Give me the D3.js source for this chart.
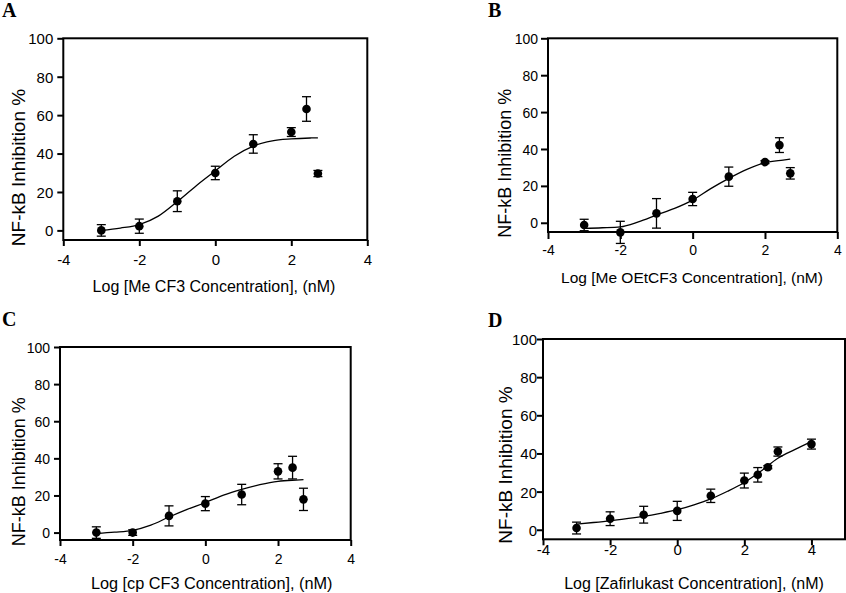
<!DOCTYPE html>
<html>
<head>
<meta charset="utf-8">
<script src="https://cdn.jsdelivr.net/npm/d3@7"></script>
<style>
  html, body { margin: 0; padding: 0; background: #fff; }
  svg { display: block; }
</style>
</head>
<body>
<svg id="chart" width="846" height="593"></svg>
<script>
// ---------------- data ----------------
const xTicks = [-4, -2, 0, 2, 4];
const yTicks = [0, 20, 40, 60, 80, 100];
const yLabel = "NF-kB Inhibition %";

// Panel A — Me CF3
const doseA = [-3, -2, -1, 0, 1, 2, 2.4, 2.7];
const meanA = [0, 2.2, 15.2, 29.9, 45.0, 51.2, 63.2, 29.6];
const semA  = [3.0, 3.7, 5.4, 3.5, 4.8, 2.3, 6.4, 1.6];
const fitXA = [-3, -2.5, -2, -1.5, -1, -0.5, 0, 0.5, 1, 1.5, 2, 2.5, 2.7];
const fitYA = [0.0, 1.2, 3.0, 7.4, 15.0, 23.3, 31.0, 38.6, 43.9, 46.6, 47.6, 48.1, 48.2];

// Panel B — Me OEtCF3
const doseB = [-3, -2, -1, 0, 1, 2, 2.4, 2.7];
const meanB = [-1.2, -5.2, 5.1, 12.9, 25.0, 32.9, 42.1, 26.8];
const semB  = [3.1, 6.0, 8.0, 3.6, 5.2, 0.8, 4.0, 3.1];
const fitXB = [-3, -2.5, -2, -1.5, -1, -0.5, 0, 0.5, 1, 1.5, 2, 2.5, 2.7];
const fitYB = [-3.0, -2.7, -2.2, 0.5, 4.2, 7.8, 12.3, 18.5, 24.1, 29.0, 32.5, 34.0, 34.5];

// Panel C — cp CF3
const doseC = [-3, -2, -1, 0, 1, 2, 2.4, 2.7];
const meanC = [0, 0, 9.0, 15.6, 20.5, 33.0, 35.0, 17.9];
const semC  = [3.1, 1.5, 5.4, 3.8, 5.5, 4.1, 6.1, 6.0];
const fitXC = [-3, -2.5, -2, -1.5, -1, -0.5, 0, 0.5, 1, 1.5, 2, 2.5, 2.7];
const fitYC = [-0.5, 0.2, 1.2, 4.0, 8.4, 12.5, 16.2, 20.2, 23.3, 25.8, 27.6, 28.3, 28.5];

// Panel D — Zafirlukast
const doseD = [-3, -2, -1, 0, 1, 2, 2.4, 2.7, 3, 4];
const meanD = [0.9, 5.8, 7.9, 9.9, 17.8, 25.8, 28.8, 32.8, 41.0, 44.9];
const semD  = [3.1, 3.6, 4.4, 5.0, 3.5, 3.9, 3.8, 0.8, 2.4, 2.6];
const fitXD = [-3, -2.5, -2, -1.5, -1, -0.5, 0, 0.5, 1, 1.5, 2, 2.5, 3, 3.5, 4];
const fitYD = [3.0, 3.8, 4.7, 5.8, 7.0, 8.6, 10.5, 13.1, 16.2, 20.2, 24.8, 30.8, 37.5, 42.0, 46.2];

// ---------------- layout ----------------
const panels = [
  { letter: "A", lx: 2, ly: 17, title: "Log [Me CF3 Concentration], (nM)",
    dose: doseA, mean: meanA, sem: semA, fx: fitXA, fy: fitYA,
    l: 63.3, r: 367.3, t: 38.3, b: 240, xDom: [-4, 4], yDom: [-5, 100],
    tick: 6, padL: 4, tickFont: 15, xLabY: 259.3,
    titleX: 214, titleY: 286, titleFont: 16,
    ytX: 18.5, ytY: 167.5, ytFont: 19 },
  { letter: "B", lx: 488, ly: 17, title: "Log [Me OEtCF3 Concentration], (nM)",
    dose: doseB, mean: meanB, sem: semB, fx: fitXB, fy: fitYB,
    l: 548, r: 837.3, t: 38.3, b: 232, xDom: [-4, 4], yDom: [-5, 100],
    tick: 7, padL: 3, tickFont: 14, xLabY: 250,
    titleX: 692, titleY: 277, titleFont: 15.5,
    ytX: 504.7, ytY: 163.3, ytFont: 18 },
  { letter: "C", lx: 2, ly: 326, title: "Log [cp CF3 Concentration], (nM)",
    dose: doseC, mean: meanC, sem: semC, fx: fitXC, fy: fitYC,
    l: 60, r: 350.7, t: 347, b: 540, xDom: [-4, 4], yDom: [-4, 100],
    tick: 6, padL: 4, tickFont: 14, xLabY: 559.3,
    titleX: 211.7, titleY: 583.5, titleFont: 16.3,
    ytX: 18.5, ytY: 471.7, ytFont: 18 },
  { letter: "D", lx: 488, ly: 327, title: "Log [Zafirlukast Concentration], (nM)",
    dose: doseD, mean: meanD, sem: semD, fx: fitXD, fy: fitYD,
    l: 543, r: 845, t: 339, b: 539.3, xDom: [-4, 5], yDom: [-5, 100],
    tick: 6, padL: 0, tickFont: 15, xLabY: 550,
    titleX: 694, titleY: 583.5, titleFont: 16,
    ytX: 504.7, ytY: 465, ytFont: 19 }
];

const svg = d3.select("#chart");
const sans = "'Liberation Sans', Arial, Helvetica, sans-serif";

panels.forEach(p => {
  const g = svg.append("g");
  const x = d3.scaleLinear().domain(p.xDom).range([p.l, p.r]);
  const y = d3.scaleLinear().domain(p.yDom).range([p.b, p.t]);

  // panel letter
  svg.append("text")
    .attr("x", p.lx).attr("y", p.ly)
    .attr("font-family", "'Liberation Serif', 'Times New Roman', serif")
    .attr("font-weight", "bold").attr("font-size", 20)
    .attr("fill", "#000").text(p.letter);

  // axes
  const xAxis = g.append("g")
    .attr("transform", `translate(0,${p.b})`)
    .call(d3.axisBottom(x).tickValues(xTicks).tickSize(p.tick).tickSizeOuter(0).tickFormat(d3.format("d")));
  xAxis.select(".domain").remove();
  xAxis.selectAll("line").attr("stroke", "#000").attr("stroke-width", 2);
  xAxis.selectAll("text")
    .attr("y", p.xLabY - p.b).attr("dy", "0.36em")
    .attr("font-family", sans).attr("font-size", p.tickFont).attr("fill", "#000")
    .text(d => d < 0 ? "-" + Math.abs(d) : d);

  const yAxis = g.append("g")
    .attr("transform", `translate(${p.l},0)`)
    .call(d3.axisLeft(y).tickValues(yTicks).tickSize(p.tick).tickSizeOuter(0).tickPadding(p.padL));
  yAxis.select(".domain").remove();
  yAxis.selectAll("line").attr("stroke", "#000").attr("stroke-width", 2);
  yAxis.selectAll("text")
    .attr("dy", "0.36em")
    .attr("font-family", sans).attr("font-size", p.tickFont).attr("fill", "#000");

  // frame
  g.append("rect")
    .attr("x", p.l).attr("y", p.t)
    .attr("width", p.r - p.l).attr("height", p.b - p.t)
    .attr("fill", "none").attr("stroke", "#000").attr("stroke-width", 2);

  // titles
  g.append("text")
    .attr("x", p.titleX).attr("y", p.titleY).attr("dy", "0.36em")
    .attr("text-anchor", "middle")
    .attr("font-family", sans).attr("font-size", p.titleFont).attr("fill", "#000")
    .text(p.title);
  g.append("text")
    .attr("transform", `translate(${p.ytX},${p.ytY}) rotate(-90)`)
    .attr("dy", "0.36em")
    .attr("text-anchor", "middle")
    .attr("font-family", sans).attr("font-size", p.ytFont).attr("fill", "#000")
    .text(yLabel);

  // fitted curve
  const fit = p.fx.map((v, i) => [v, p.fy[i]]);
  g.append("path")
    .datum(fit)
    .attr("fill", "none").attr("stroke", "#000").attr("stroke-width", 1.3)
    .attr("d", d3.line().x(d => x(d[0])).y(d => y(d[1])).curve(d3.curveMonotoneX));

  // error bars + points
  const pts = p.dose.map((v, i) => ({ x: v, m: p.mean[i], s: p.sem[i] }));
  const eb = g.append("g").attr("stroke", "#000").attr("stroke-width", 1.3);
  pts.forEach(d => {
    const cx = x(d.x);
    eb.append("line").attr("x1", cx).attr("x2", cx).attr("y1", y(d.m - d.s)).attr("y2", y(d.m + d.s));
    eb.append("line").attr("x1", cx - 4.5).attr("x2", cx + 4.5).attr("y1", y(d.m + d.s)).attr("y2", y(d.m + d.s));
    eb.append("line").attr("x1", cx - 4.5).attr("x2", cx + 4.5).attr("y1", y(d.m - d.s)).attr("y2", y(d.m - d.s));
  });
  g.append("g").selectAll("circle").data(pts).join("circle")
    .attr("cx", d => x(d.x)).attr("cy", d => y(d.m)).attr("r", 4.3)
    .attr("fill", "#000");
});
</script>
</body>
</html>
